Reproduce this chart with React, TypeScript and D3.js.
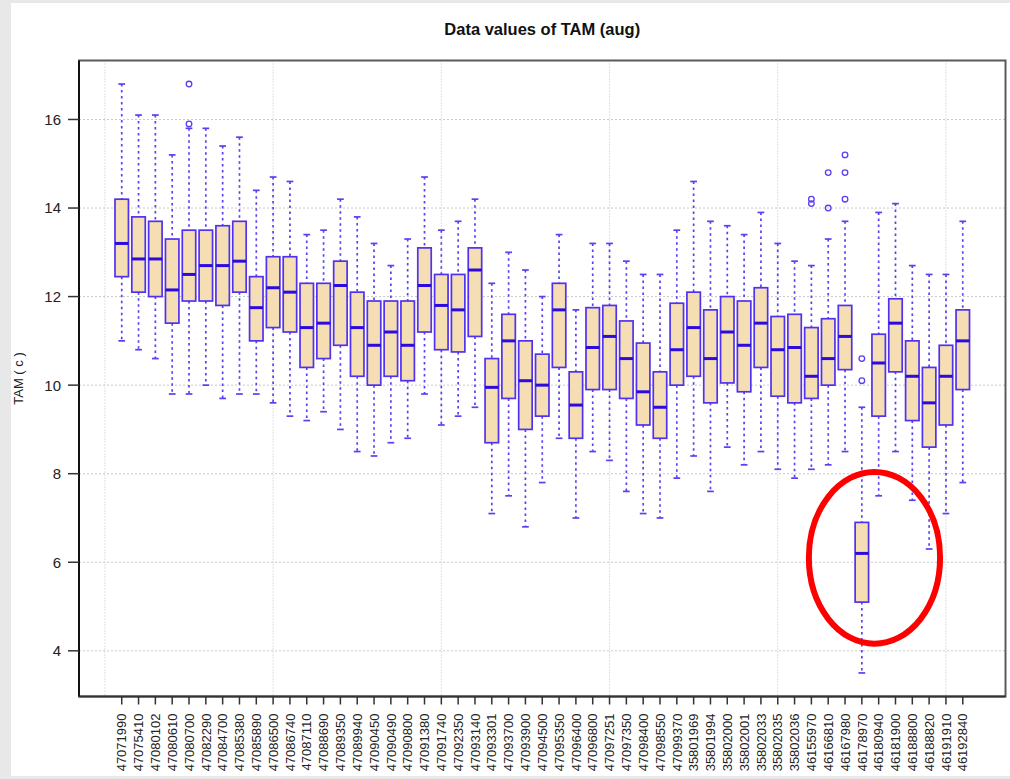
import React from "react";
import * as d3 from "d3";

// station codes along the x axis
const stations = [
  "47071990", "47075410", "47080102", "47080610", "47080700", "47082290", "47084700",
  "47085380", "47085890", "47086500", "47086740", "47087110", "47088690", "47089350",
  "47089940", "47090450", "47090490", "47090800", "47091380", "47091740", "47092350",
  "47093140", "47093301", "47093700", "47093900", "47094500", "47095350", "47096400",
  "47096800", "47097251", "47097350", "47098400", "47098550", "47099370", "35801969",
  "35801994", "35802000", "35802001", "35802033", "35802035", "35802036", "46155970",
  "46166810", "46167980", "46178970", "46180940", "46181900", "46188800", "46188820",
  "46191910", "46192840",
];

// five-number summaries
const whiskerHigh = [
  16.8, 16.1, 16.1, 15.2, 15.8, 15.8, 15.4, 15.6, 14.4, 14.7, 14.6, 13.4, 13.5, 14.2,
  13.8, 13.2, 12.7, 13.3, 14.7, 13.5, 13.7, 14.2, 12.3, 13.0, 12.6, 12.0, 13.4, 11.7,
  13.2, 13.2, 12.8, 12.5, 12.5, 13.5, 14.6, 13.7, 13.6, 13.4, 13.9, 13.2, 12.8, 12.7,
  13.3, 13.7, 9.5, 13.9, 14.1, 12.7, 12.5, 12.5, 13.7,
];
const q3 = [
  14.2, 13.8, 13.7, 13.3, 13.5, 13.5, 13.6, 13.7, 12.45, 12.9, 12.9, 12.3, 12.3, 12.8,
  12.1, 11.9, 11.9, 11.9, 13.1, 12.5, 12.5, 13.1, 10.6, 11.6, 11.0, 10.7, 12.3, 10.3,
  11.75, 11.8, 11.45, 10.95, 10.3, 11.85, 12.1, 11.7, 12.0, 11.9, 12.2, 11.55, 11.6, 11.3,
  11.5, 11.8, 6.9, 11.15, 11.95, 11.0, 10.4, 10.9, 11.7,
];
const medians = [
  13.2, 12.85, 12.85, 12.15, 12.5, 12.7, 12.7, 12.8, 11.75, 12.2, 12.1, 11.3, 11.4, 12.25,
  11.3, 10.9, 11.2, 10.9, 12.25, 11.8, 11.7, 12.6, 9.95, 11.0, 10.1, 10.0, 11.7, 9.55,
  10.85, 11.1, 10.6, 9.85, 9.5, 10.8, 11.3, 10.6, 11.2, 10.9, 11.4, 10.8, 10.85, 10.2,
  10.6, 11.1, 6.2, 10.5, 11.4, 10.2, 9.6, 10.2, 11.0,
];
const q1 = [
  12.45, 12.1, 12.0, 11.4, 11.9, 11.9, 11.8, 12.1, 11.0, 11.3, 11.2, 10.4, 10.6, 10.9,
  10.2, 10.0, 10.2, 10.1, 11.2, 10.8, 10.75, 11.1, 8.7, 9.7, 9.0, 9.3, 10.4, 8.8,
  9.9, 9.9, 9.7, 9.1, 8.8, 10.0, 10.2, 9.6, 10.05, 9.85, 10.4, 9.75, 9.6, 9.7,
  10.0, 10.35, 5.1, 9.3, 10.3, 9.2, 8.6, 9.1, 9.9,
];
const whiskerLow = [
  11.0, 10.8, 10.6, 9.8, 9.8, 10.0, 9.7, 9.8, 9.8, 9.6, 9.3, 9.2, 9.4, 9.0,
  8.5, 8.4, 8.7, 8.8, 9.8, 9.1, 9.3, 9.5, 7.1, 7.5, 6.8, 7.8, 8.8, 7.0,
  8.5, 8.3, 7.6, 7.1, 7.0, 7.9, 8.4, 7.6, 8.6, 8.2, 8.5, 8.1, 7.9, 8.1,
  8.2, 8.5, 3.5, 7.5, 8.5, 7.4, 6.3, 7.1, 7.8,
];

// outliers
const outlierStations = [
  "47080700", "47080700", "46155970", "46155970", "46166810", "46166810",
  "46167980", "46167980", "46167980", "46178970", "46178970",
];
const outlierValues = [16.8, 15.9, 14.2, 14.1, 14.8, 14.0, 15.2, 14.8, 14.2, 10.6, 10.1];

const yTicks = [4, 6, 8, 10, 12, 14, 16];
const gridXPositions = [0, 10, 20, 30, 40, 50];
const highlighted = "46178970";

const W = 1010;
const H = 779;
const plot = { left: 79, right: 1005.5, top: 60.5, bottom: 696.5 };

const FONT = "'Liberation Sans', Arial, sans-serif";
const BLUE_BOX = "#5131f0";
const BLUE_MED = "#2c0cdc";
const BLUE_WHISK = "#5a3ff3";

export default function App() {
  const n = stations.length;
  const padX = 0.04 * n;
  const x = d3
    .scaleLinear()
    .domain([0.5 - padX, n + 0.5 + padX])
    .range([plot.left, plot.right]);

  const allVals = [...whiskerLow, ...whiskerHigh, ...outlierValues];
  const lo = d3.min(allVals) as number;
  const hi = d3.max(allVals) as number;
  const padY = (hi - lo) * 0.04;
  const y = d3
    .scaleLinear()
    .domain([lo - padY, hi + padY])
    .range([plot.bottom, plot.top]);

  const unit = x(1) - x(0);
  const boxW = 0.8 * unit;
  const stapleW = 0.4 * unit;
  const pos = (s: string) => stations.indexOf(s) + 1;

  const hi_i = pos(highlighted);

  return (
    <div style={{ position: "absolute", left: 0, top: 0 }}>
      <svg width={W} height={H} style={{ display: "block", fontFamily: FONT }}>
        <rect x={0} y={0} width={W} height={H} fill="#e8e8e8" />
        <rect x={11} y={3} width={W - 11} height={773} fill="#ffffff" />

        {/* title */}
        <text
          x={(plot.left + plot.right) / 2}
          y={35}
          textAnchor="middle"
          fontSize={16.5}
          fontWeight="bold"
          fill="#111"
        >
          Data values of TAM (aug)
        </text>

        {/* grid */}
        {yTicks.map((t) => (
          <line
            key={"gy" + t}
            x1={plot.left}
            x2={plot.right}
            y1={y(t)}
            y2={y(t)}
            stroke="#c8c8c8"
            strokeWidth={1}
            strokeDasharray="2,2"
          />
        ))}
        {gridXPositions.map((g) => (
          <line
            key={"gx" + g}
            x1={x(g)}
            x2={x(g)}
            y1={plot.top}
            y2={plot.bottom}
            stroke="#c0c0c0"
            strokeWidth={1}
            strokeDasharray="1,2"
          />
        ))}

        {/* boxes */}
        {stations.map((s, i) => {
          const cx = x(i + 1);
          return (
            <g key={s}>
              <line
                x1={cx}
                x2={cx}
                y1={y(whiskerHigh[i])}
                y2={y(q3[i])}
                stroke={BLUE_WHISK}
                strokeWidth={1.7}
                strokeDasharray="2.5,3.5"
              />
              <line
                x1={cx}
                x2={cx}
                y1={y(q1[i])}
                y2={y(whiskerLow[i])}
                stroke={BLUE_WHISK}
                strokeWidth={1.7}
                strokeDasharray="2.5,3.5"
              />
              <line
                x1={cx - stapleW / 2}
                x2={cx + stapleW / 2}
                y1={y(whiskerHigh[i])}
                y2={y(whiskerHigh[i])}
                stroke={BLUE_WHISK}
                strokeWidth={1.7}
              />
              <line
                x1={cx - stapleW / 2}
                x2={cx + stapleW / 2}
                y1={y(whiskerLow[i])}
                y2={y(whiskerLow[i])}
                stroke={BLUE_WHISK}
                strokeWidth={1.7}
              />
              <rect
                x={cx - boxW / 2}
                y={y(q3[i])}
                width={boxW}
                height={y(q1[i]) - y(q3[i])}
                fill="#f5ddb4"
                stroke={BLUE_BOX}
                strokeWidth={1.7}
              />
              <line
                x1={cx - boxW / 2}
                x2={cx + boxW / 2}
                y1={y(medians[i])}
                y2={y(medians[i])}
                stroke={BLUE_MED}
                strokeWidth={3}
              />
            </g>
          );
        })}

        {/* outliers */}
        {outlierValues.map((v, k) => (
          <circle
            key={"o" + k}
            cx={x(pos(outlierStations[k]))}
            cy={y(v)}
            r={2.8}
            fill="none"
            stroke={BLUE_WHISK}
            strokeWidth={1.3}
          />
        ))}

        {/* frame */}
        <rect
          x={plot.left}
          y={plot.top}
          width={plot.right - plot.left}
          height={plot.bottom - plot.top}
          fill="none"
          stroke="#5a5a5a"
          strokeWidth={2}
        />
        <line x1={plot.left} x2={plot.left} y1={plot.top} y2={plot.bottom} stroke="#111" strokeWidth={2} />
        <line x1={plot.left} x2={plot.right} y1={plot.bottom} y2={plot.bottom} stroke="#333" strokeWidth={2} />

        {/* y axis */}
        {yTicks.map((t) => (
          <g key={"yt" + t} transform={`translate(0,${y(t)})`}>
            <line x1={plot.left - 11} x2={plot.left} stroke="#333" strokeWidth={1.5} />
            <text x={61} dy="0.36em" textAnchor="end" fontSize={15} fill="#222">
              {t}
            </text>
          </g>
        ))}
        <text
          transform={`translate(23,${(plot.top + plot.bottom) / 2}) rotate(-90)`}
          textAnchor="middle"
          fontSize={13}
          fill="#222"
        >
          TAM ( c )
        </text>

        {/* x axis */}
        {stations.map((s, i) => (
          <g key={"xt" + s} transform={`translate(${x(i + 1)},${plot.bottom})`}>
            <line y1={0} y2={8} stroke="#333" strokeWidth={1.5} />
            <text
              transform="translate(0,17) rotate(-90)"
              textAnchor="end"
              dy="0.36em"
              fontSize={13}
              fill="#222"
            >
              {s}
            </text>
          </g>
        ))}

        {/* highlight annotation */}
        <ellipse
          cx={x(hi_i) + 0.75 * unit}
          cy={y(6.1)}
          rx={3.9 * unit}
          ry={1.94 * (y(0) - y(1))}
          fill="none"
          stroke="#ff0000"
          strokeWidth={6}
        />
      </svg>
    </div>
  );
}
